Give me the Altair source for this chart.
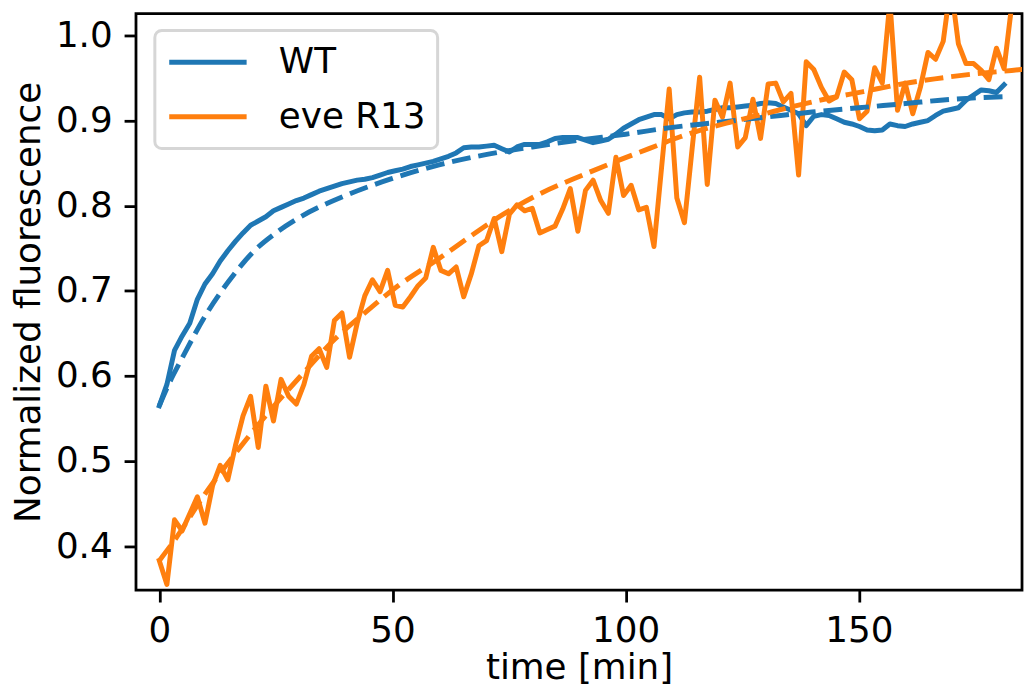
import altair as alt
import pandas as pd

# sampling times [min]
time_min = [0.00, 1.63, 3.26, 4.90, 6.53, 8.16, 9.79, 11.42, 13.06, 14.69,
            16.32, 17.95, 19.58, 21.22, 22.85, 24.48, 26.11, 27.74, 29.38, 31.01,
            32.64, 34.27, 35.90, 37.54, 39.17, 40.80, 42.43, 44.06, 45.70, 47.33,
            48.96, 50.59, 52.22, 53.86, 55.49, 57.12, 58.75, 60.38, 62.02, 63.65,
            65.28, 66.91, 68.54, 70.18, 71.81, 73.44, 75.07, 76.70, 78.34, 79.97,
            81.60, 83.23, 84.86, 86.50, 88.13, 89.76, 91.39, 93.02, 94.66, 96.29,
            97.92, 99.55, 101.18, 102.82, 104.45, 106.08, 107.71, 109.34, 110.98, 112.61,
            114.24, 115.87, 117.50, 119.14, 120.77, 122.40, 124.03, 125.66, 127.30, 128.93,
            130.56, 132.19, 133.82, 135.46, 137.09, 138.72, 140.35, 141.98, 143.62, 145.25,
            146.88, 148.51, 150.14, 151.78, 153.41, 155.04, 156.67, 158.30, 159.94, 161.57,
            163.20, 164.83, 166.46, 168.10, 169.73, 171.36, 172.99, 174.62, 176.26, 177.89,
            179.52, 181.15, 182.78, 184.42]

wt_values = [0.565, 0.590, 0.630, 0.647, 0.662, 0.690, 0.708, 0.720, 0.735, 0.747,
             0.758, 0.768, 0.777, 0.782, 0.787, 0.794, 0.798, 0.802, 0.806, 0.809,
             0.813, 0.817, 0.820, 0.823, 0.826, 0.828, 0.830, 0.831, 0.833, 0.836,
             0.839, 0.841, 0.843, 0.846, 0.848, 0.850, 0.852, 0.855, 0.858, 0.862,
             0.868, 0.869, 0.869, 0.870, 0.871, 0.867, 0.863, 0.869, 0.872, 0.872,
             0.872, 0.875, 0.879, 0.880, 0.880, 0.880, 0.877, 0.874, 0.876, 0.878,
             0.884, 0.891, 0.896, 0.901, 0.904, 0.907, 0.907, 0.902, 0.907, 0.909,
             0.910, 0.910, 0.911, 0.913, 0.915, 0.915, 0.916, 0.917, 0.918, 0.920,
             0.921, 0.920, 0.916, 0.912, 0.908, 0.894, 0.905, 0.907, 0.906, 0.902,
             0.898, 0.896, 0.893, 0.889, 0.888, 0.889, 0.896, 0.894, 0.893, 0.896,
             0.898, 0.900, 0.906, 0.911, 0.913, 0.915, 0.924, 0.930, 0.936, 0.935,
             0.933, 0.942]

eve_values = [0.383, 0.355, 0.431, 0.418, 0.438, 0.458, 0.427, 0.471, 0.495, 0.478,
              0.518, 0.553, 0.576, 0.516, 0.588, 0.547, 0.596, 0.576, 0.567, 0.590,
              0.623, 0.632, 0.610, 0.665, 0.674, 0.622, 0.662, 0.694, 0.713, 0.699,
              0.724, 0.683, 0.681, 0.693, 0.706, 0.715, 0.751, 0.724, 0.720, 0.728,
              0.693, 0.720, 0.753, 0.759, 0.785, 0.746, 0.790, 0.801, 0.794, 0.797,
              0.768, 0.772, 0.776, 0.796, 0.820, 0.770, 0.818, 0.830, 0.806, 0.791,
              0.857, 0.812, 0.824, 0.795, 0.798, 0.752, 0.845, 0.937, 0.809, 0.780,
              0.866, 0.951, 0.825, 0.924, 0.904, 0.944, 0.869, 0.880, 0.925, 0.879,
              0.943, 0.944, 0.922, 0.932, 0.836, 0.969, 0.960, 0.939, 0.923, 0.928,
              0.957, 0.948, 0.902, 0.911, 0.962, 0.944, 1.040, 0.912, 0.944, 0.908,
              0.939, 0.980, 0.972, 0.993, 1.060, 0.990, 0.967, 0.967, 0.959, 0.948,
              0.985, 0.961, 1.035, 1.060]

# fitted curves (dashed)
wt_fit_t = [0, 2, 5, 10, 15, 20, 25, 30, 40, 50, 60, 70, 80, 90, 100, 110, 120,
            130, 140, 150, 160, 170, 181]
wt_fit = [0.565, 0.590, 0.622, 0.672, 0.712, 0.745, 0.768, 0.786, 0.812, 0.832,
          0.848, 0.860, 0.869, 0.877, 0.884, 0.892, 0.898, 0.904, 0.910, 0.915,
          0.920, 0.925, 0.928]

eve_fit_t = [0, 3, 10, 17, 23.4, 30.5, 37.6, 44.7, 51, 60, 66.7, 73.8, 80.9, 90.8,
             97.9, 105, 111.7, 121.6, 128.4, 135.5, 142.6, 151, 159.2, 166.3, 173.4,
             184.8, 188]
eve_fit = [0.383, 0.405, 0.463, 0.514, 0.557, 0.601, 0.643, 0.677, 0.705, 0.738,
           0.764, 0.790, 0.812, 0.836, 0.852, 0.867, 0.881, 0.897, 0.906, 0.916,
           0.925, 0.934, 0.943, 0.949, 0.954, 0.960, 0.962]

series_names = ["WT", "eve R13"]
series_colors = ["#1f77b4", "#ff7f0e"]
x_ticks = [0, 50, 100, 150]
y_ticks = [0.4, 0.5, 0.6, 0.7, 0.8, 0.9, 1.0]

data_df = pd.DataFrame(
    [{"time": t, "value": v, "series": "WT"} for t, v in zip(time_min, wt_values)]
    + [{"time": t, "value": v, "series": "eve R13"} for t, v in zip(time_min, eve_values)]
)
fit_df = pd.DataFrame(
    [{"time": t, "value": v, "series": "WT"} for t, v in zip(wt_fit_t, wt_fit)]
    + [{"time": t, "value": v, "series": "eve R13"} for t, v in zip(eve_fit_t, eve_fit)]
)

FONT = "DejaVu Sans"
FS = 36

x_enc = alt.X(
    "time:Q",
    scale=alt.Scale(domain=[-5, 185], nice=False, zero=False),
    axis=alt.Axis(values=x_ticks, title="time [min]", format="d",
                  titleY=89, titleBaseline="alphabetic"),
)
y_enc = alt.Y(
    "value:Q",
    scale=alt.Scale(domain=[0.3484, 1.0256], nice=False, zero=False),
    axis=alt.Axis(values=y_ticks, format=".1f", title="Normalized fluorescence",
                  titleAngle=270, titleX=-97, titleBaseline="alphabetic"),
)
color_scale = alt.Scale(domain=series_names, range=series_colors)

data_layer = alt.Chart(data_df).mark_line(
    strokeWidth=5, clip=True, strokeCap="square", strokeJoin="round"
).encode(
    x=x_enc,
    y=y_enc,
    color=alt.Color(
        "series:N", scale=color_scale, sort=series_names,
        legend=alt.Legend(
            title=None, orient="none", legendX=19, legendY=17,
            symbolType="stroke", symbolSize=6084, symbolStrokeWidth=5,
            clipHeight=40, rowPadding=15, padding=12,
            labelFont=FONT, labelFontSize=FS, labelColor="black", labelOffset=30,
            fillColor="rgba(255,255,255,0.8)", strokeColor="rgba(204,204,204,0.8)",
            cornerRadius=7,
        ),
    ),
)

fit_layer = alt.Chart(fit_df).mark_line(
    strokeWidth=5, clip=True, strokeDash=[19, 8], interpolate="monotone"
).encode(
    x=x_enc,
    y=y_enc,
    color=alt.Color("series:N", scale=color_scale, legend=None),
)

chart = alt.layer(data_layer, fit_layer).properties(
    width=893, height=581,
    autosize=alt.AutoSizeParams(type="none"),
    padding={"left": 129, "top": 3, "right": 2, "bottom": 99},
).configure_view(
    stroke="black", strokeWidth=2.8
).configure_axis(
    grid=False, domain=False,
    labelFont=FONT, labelFontSize=FS, labelColor="black", labelPadding=12,
    tickColor="black", tickWidth=2.8, tickSize=12,
    titleFont=FONT, titleFontSize=FS, titleColor="black", titleFontWeight="normal",
).configure_legend(
    strokeWidth=3
)

chart.save("out.html", embed_options={"renderer": "svg", "actions": False})
